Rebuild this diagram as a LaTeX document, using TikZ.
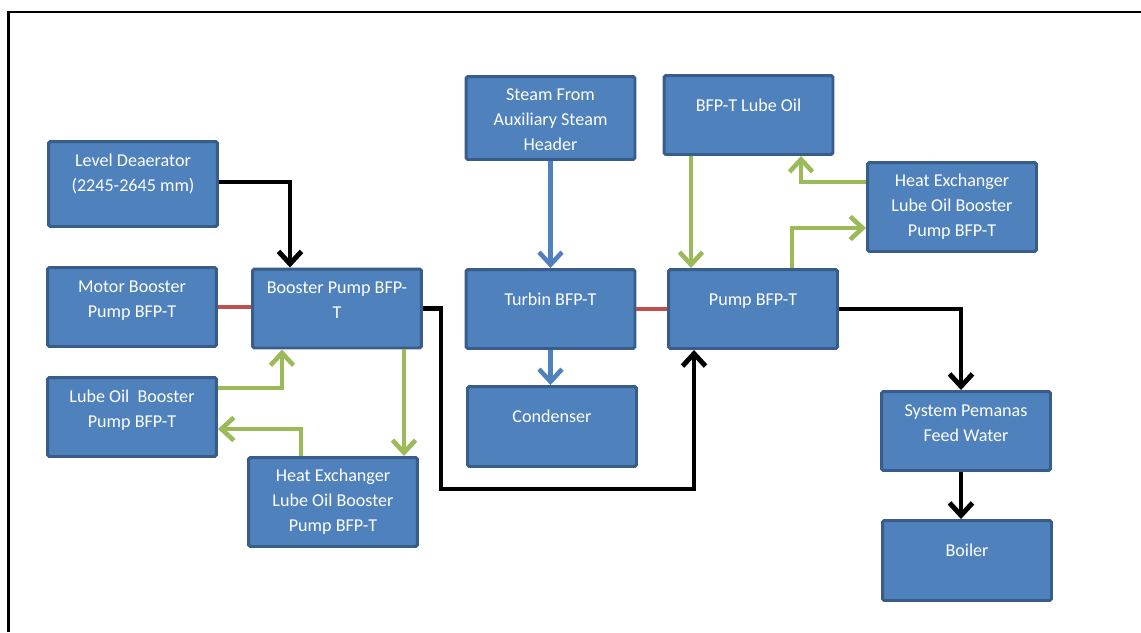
\documentclass[tikz,border=0pt]{standalone}
\usepackage{fontspec}
\setmainfont{Carlito}
\usetikzlibrary{arrows.meta}
\usetikzlibrary{positioning}

\definecolor{boxblue}{HTML}{4F81BD}
\definecolor{boxedge}{HTML}{385D8A}
\definecolor{oilgreen}{HTML}{9BBB59}
\definecolor{shaftred}{HTML}{C0504D}

\begin{document}
\begin{tikzpicture}[x=0.02cm, y=-0.02cm,
    unit/.style={draw=boxedge, fill=boxblue, line width=1.7pt, rounded corners=1pt,
        minimum width=3.38cm, minimum height=1.58cm, inner sep=0pt},
    txt/.style={text=white, align=center, inner sep=0pt,
        font=\fontsize{10.3}{14.2}\selectfont},
    tip/.style={-{Straight Barb[length=0.25cm, width=0.46cm]}},
    water/.style={tip, line width=2.8pt},
    oil/.style={tip, draw=oilgreen, line width=2.6pt},
    steam/.style={tip, draw=boxblue, line width=2.6pt},
    shaft/.style={draw=shaftred, line width=2.6pt}]
    \useasboundingbox (0,0) rectangle (1141,632);
    \draw[line width=1.3pt] (1141,12) -- (8.5,12) -- (8.5,632);

    % left column
    \node[unit, minimum height=1.70cm] (deaer) at (133,184) {};
    \node[txt, below=0.17cm of deaer.north] (deaertxt) {\strut Level Deaerator\\(2245-2645 mm)};
    \node[unit] (motor) at (132,307) {};
    \node[txt, below=0.17cm of motor.north] (motortxt) {\strut Motor Booster\\Pump BFP-T};
    \node[unit] (lobp) at (132,417) {};
    \node[txt, below=0.17cm of lobp.north] (lobptxt) {\strut Lube Oil\ \ Booster\\Pump BFP-T};

    % booster pump and its cooler
    \node[unit] (booster) at (337,308.5) {};
    \node[txt, below=0.17cm of booster.north] (boostertxt) {\strut Booster Pump BFP-\\T};
    \node[unit, minimum height=1.78cm] (hxleft) at (333,502) {};
    \node[txt, below=0.15cm of hxleft.north] (hxlefttxt) {\strut Heat Exchanger\\Lube Oil Booster\\Pump BFP-T};

    % turbine side
    \node[unit, minimum height=1.66cm] (auxsteam) at (550.5,118) {};
    \node[txt, below=0.15cm of auxsteam.north] (auxsteamtxt) {\strut Steam From\\Auxiliary Steam\\Header};
    \node[unit] (turbin) at (550.5,309) {};
    \node[txt, below=0.39cm of turbin.north] (turbintxt) {\strut Turbin BFP-T};
    \node[unit, minimum height=1.60cm] (cond) at (552,426.5) {};
    \node[txt, below=0.39cm of cond.north] (condtxt) {\strut Condenser};

    % main pump
    \node[unit] (lubeoil) at (748.5,115) {};
    \node[txt, below=0.39cm of lubeoil.north] (lubeoiltxt) {\strut BFP-T Lube Oil};
    \node[unit] (pump) at (753,309) {};
    \node[txt, below=0.39cm of pump.north] (pumptxt) {\strut Pump BFP-T};
    \node[unit, minimum height=1.78cm] (hxright) at (952,207) {};
    \node[txt, below=0.15cm of hxright.north] (hxrighttxt) {\strut Heat Exchanger\\Lube Oil Booster\\Pump BFP-T};

    % feed water
    \node[unit] (heater) at (966,431) {};
    \node[txt, below=0.17cm of heater.north] (heatertxt) {\strut System Pemanas\\Feed Water};
    \node[unit, minimum height=1.60cm] (boiler) at (967,560.5) {};
    \node[txt, below=0.39cm of boiler.north] (boilertxt) {\strut Boiler};

    % feed water line
    \draw[water] (deaer.east |- 0,182) -| (290,0 |- booster.north);
    \draw[water] (booster.east) -| (441,489) -| (694,0 |- pump.south);
    \draw[water] (pump.east) -| (961,0 |- heater.north);
    \draw[water] (961,0 |- heater.south) -- (961,0 |- boiler.north);

    % shafts
    \draw[shaft] (motor.east) -- (motor.east -| booster.west);
    \draw[shaft] (turbin.east) -- (turbin.east -| pump.west);

    % steam
    \draw[steam] (auxsteam.south) -- (turbin.north);
    \draw[steam] (turbin.south) -- (turbin.south |- cond.north);

    % lube oil
    \draw[oil] (lobp.east |- 0,388) -| (282,0 |- booster.south);
    \draw[oil] (404,0 |- booster.south) -- (404,0 |- hxleft.north);
    \draw[oil] (301,0 |- hxleft.north) |- (lobp.east |- 0,429);
    \draw[oil] (691,0 |- lubeoil.south) -- (691,0 |- pump.north);
    \draw[oil] (hxright.west |- 0,182) -| (801,0 |- lubeoil.south);
    \draw[oil] (792,0 |- pump.north) |- (hxright.west |- 0,228);
\end{tikzpicture}
\end{document}
